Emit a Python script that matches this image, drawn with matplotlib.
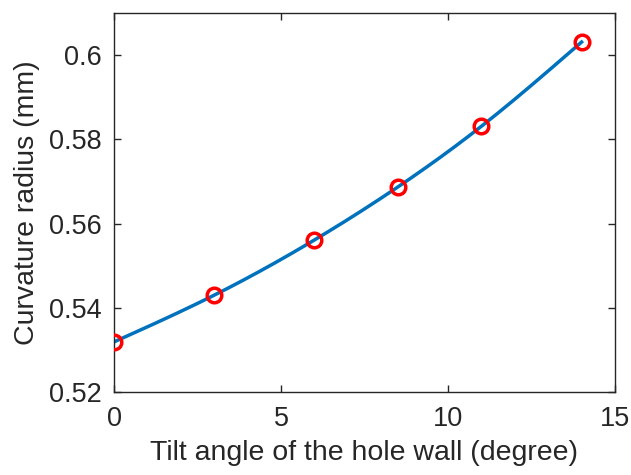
import numpy as np
import matplotlib
matplotlib.use("Agg")
import matplotlib.pyplot as plt

tilt_angle = [0, 3, 6, 8.5, 11, 14]
curvature_radius = [0.5319, 0.5430, 0.5561, 0.5687, 0.5831, 0.6031]
x_ticks = [0, 5, 10, 15]
y_ticks = [0.52, 0.54, 0.56, 0.58, 0.60]
y_tick_labels = ["0.52", "0.54", "0.56", "0.58", "0.6"]

plt.rcParams['font.family'] = ['Liberation Sans', 'DejaVu Sans']
text_color = '#262626'


def natural_spline(x, y, xs):
    x = np.asarray(x, float)
    y = np.asarray(y, float)
    n = len(x)
    h = np.diff(x)
    A = np.zeros((n, n))
    b = np.zeros(n)
    A[0, 0] = 1
    A[-1, -1] = 1
    for i in range(1, n - 1):
        A[i, i - 1] = h[i - 1]
        A[i, i] = 2 * (h[i - 1] + h[i])
        A[i, i + 1] = h[i]
        b[i] = 3 * ((y[i + 1] - y[i]) / h[i] - (y[i] - y[i - 1]) / h[i - 1])
    c = np.linalg.solve(A, b)
    out = np.empty_like(xs)
    for k, xv in enumerate(xs):
        i = min(max(np.searchsorted(x, xv) - 1, 0), n - 2)
        d = xv - x[i]
        bi = (y[i + 1] - y[i]) / h[i] - h[i] * (2 * c[i] + c[i + 1]) / 3
        di = (c[i + 1] - c[i]) / (3 * h[i])
        out[k] = y[i] + bi * d + c[i] * d ** 2 + di * d ** 3
    return out


fig = plt.figure(figsize=(6.31, 4.75), dpi=100)
ax = fig.add_axes([0.1807, 0.1747, 0.7939, 0.7979])

xs = np.linspace(min(tilt_angle), max(tilt_angle), 300)
ax.plot(xs, natural_spline(tilt_angle, curvature_radius, xs), color='#0072BD', lw=2.5, zorder=2)
ax.plot(tilt_angle, curvature_radius, 'o', ms=10.5, mfc='none', mec='#FF0000', mew=2.5, zorder=3)

ax.set_xlim(0, 15)
ax.set_ylim(0.52, 0.61)
ax.set_xticks(x_ticks)
ax.set_yticks(y_ticks)
ax.set_yticklabels(y_tick_labels)
ax.tick_params(direction='in', top=True, right=True, length=5, width=1,
               labelsize=19.5, colors=text_color)
ax.tick_params(axis='x', pad=10)
ax.tick_params(axis='y', pad=9)
for s in ax.spines.values():
    s.set_color(text_color)
    s.set_linewidth(1)
ax.set_xlabel('Tilt angle of the hole wall (degree)', fontsize=20.5, color=text_color, labelpad=6)
ax.set_ylabel('Curvature radius (mm)', fontsize=20.5, color=text_color, labelpad=6)

fig.savefig('out.png', dpi=100)
